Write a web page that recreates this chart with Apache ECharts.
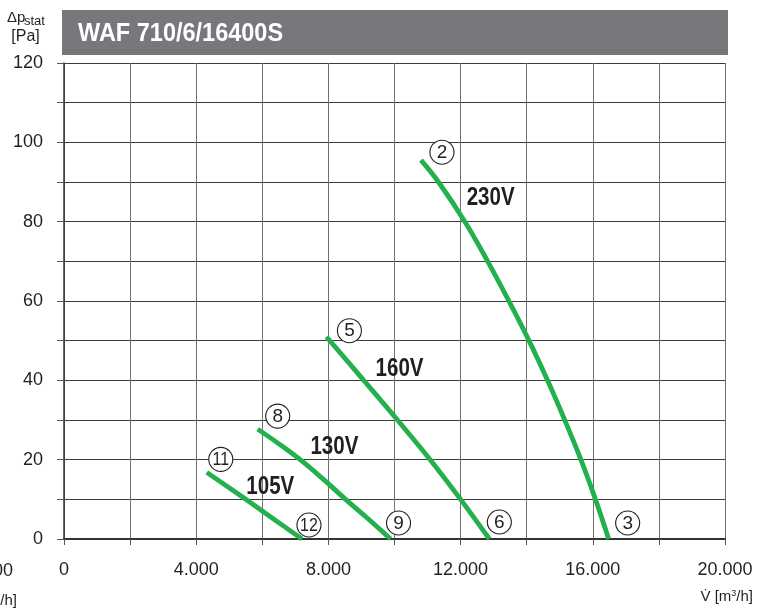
<!DOCTYPE html>
<html><head><meta charset="utf-8">
<script src="https://cdn.jsdelivr.net/npm/echarts@6.0.0/dist/echarts.min.js"></script>
<style>html,body{margin:0;padding:0;background:#fff}#c{width:772px;height:610px}</style>
</head><body><div id="c"></div>
<script>
// ---- data ----
const chartTitle = 'WAF 710/6/16400S';
const xTickLabels = ['0','4.000','8.000','12.000','16.000','20.000'];
const yTickLabels = ['0','20','40','60','80','100','120'];

const curve230x = [10800, 11330, 12130, 12820, 13460, 14070, 14630, 15150, 15640, 16080, 16480];
const curve230y = [95.5, 90, 80, 70, 60, 50, 40, 30, 20, 10, 0];
const curve160x = [7940, 9070, 10090, 11080, 12000, 12870];
const curve160y = [51, 40, 30, 20, 10, 0];
const curve130x = [5860, 6450, 7100, 7800, 8520, 9200, 9880];
const curve130y = [27.7, 24.3, 20.3, 15.4, 10, 5.1, 0];
const curve105x = [4320, 5500, 6350, 7200];
const curve105y = [16.8, 10, 5, 0];

const voltNames = ['230V', '160V', '130V', '105V'];
const startMarks = ['2', '5', '8', '11'];
const endMarks = ['3', '6', '9', '12'];

// annotation anchors (data coords) for the voltage texts
const voltAnchorX = [12909, 10152, 8182, 6242];
const voltAnchorY = [86, 42.9, 23.2, 13.1];

// ---- build ----
const curvesX = [curve230x, curve160x, curve130x, curve105x];
const curvesY = [curve230y, curve160y, curve130y, curve105y];
const zip = (a, b) => a.map((v, i) => [v, b[i]]);

const startOffsets = [[21, -8], [23, -6], [20, -13], [14, -13]];
const endOffsets = [[19, -16], [10, -17], [8, -16], [7, -14]];

const SANS = '"Liberation Sans", Arial, sans-serif';
const INK = '#231f20';
const GREEN = '#22b14c';

const lineSeries = curvesX.map((xs, i) => ({
  type: 'line',
  name: voltNames[i],
  data: zip(xs, curvesY[i]),
  showSymbol: false,
  smooth: 0.4,
  lineStyle: { color: GREEN, width: 4.8, cap: 'butt' },
  z: 3,
  silent: true
}));

const fmtX = v => (v % 4000 === 0 ? xTickLabels[v / 4000] : '');
const fmtY = v => (v % 20 === 0 ? yTickLabels[v / 20] : '');

const option = {
  animation: false,
  backgroundColor: '#fff',
  grid: { left: 64, right: 47, top: 63, bottom: 71, containLabel: false },
  xAxis: {
    type: 'value', min: 0, max: 20000, interval: 2000,
    axisLine: { show: true, lineStyle: { color: '#333', width: 2 } },
    axisTick: { show: true, length: 6, lineStyle: { color: '#555', width: 1 } },
    splitLine: { show: true, lineStyle: { color: '#707070', width: 1 } },
    axisLabel: { formatter: fmtX, margin: 22, color: INK, fontSize: 18, fontFamily: SANS, showMaxLabel: true, showMinLabel: true }
  },
  yAxis: {
    type: 'value', min: 0, max: 120, interval: 10,
    axisLine: { show: true, lineStyle: { color: '#333', width: 1.5 } },
    axisTick: { show: true, length: 7, lineStyle: { color: '#555', width: 1 } },
    splitLine: { show: true, lineStyle: { color: '#3c3c3c', width: 1 } },
    axisLabel: { formatter: fmtY, margin: 21, color: INK, fontSize: 18, fontFamily: SANS }
  },
  series: lineSeries
};

const chart = echarts.init(document.getElementById('c'), null, { renderer: 'canvas' });
chart.setOption(option);

const toPx = p => chart.convertToPixel({ gridIndex: 0 }, p);

function axisName(xRight, yMid) {
  return {
    type: 'text', x: xRight, y: yMid, z: 11,
    style: {
      text: '{n|V\u0307 [m}{s|3}{n|/h]}',
      align: 'right', verticalAlign: 'middle',
      rich: {
        n: { fontSize: 15, fontFamily: SANS, fill: INK },
        s: { fontSize: 9, fontFamily: SANS, fill: INK, padding: [0, 0, 7, 0] }
      }
    }
  };
}

function circleMark(pt, off, txt) {
  const p = toPx(pt);
  const cx = p[0] + off[0], cy = p[1] + off[1];
  return [
    { type: 'circle', shape: { cx: cx, cy: cy, r: 12 }, style: { fill: '#fff', stroke: INK, lineWidth: 1.1 }, z: 20 },
    { type: 'text', x: cx, y: cy + 0.5, scaleX: txt.length > 1 ? 0.84 : 1, z: 21,
      style: { text: txt, fill: INK, font: '19px ' + SANS, align: 'center', verticalAlign: 'middle' } }
  ];
}

const els = [
  { type: 'rect', shape: { x: 62, y: 10, width: 666, height: 45 }, style: { fill: '#77787c' }, z: 10 },
  { type: 'text', x: 78, y: 34, scaleX: 0.94, z: 11,
    style: { text: chartTitle, fill: '#fff', font: 'bold 25px ' + SANS, verticalAlign: 'middle' } },
  { type: 'text', x: 7, y: 25, z: 11, style: { text: 'Δp', fill: INK, font: '15px ' + SANS, verticalAlign: 'bottom' } },
  { type: 'text', x: 24, y: 28, z: 11, style: { text: 'stat', fill: INK, font: '13px ' + SANS, verticalAlign: 'bottom' } },
  { type: 'text', x: 25.5, y: 37, z: 11, style: { text: '[Pa]', fill: INK, font: '16px ' + SANS, align: 'center', verticalAlign: 'middle' } },
  axisName(753, 597),
  axisName(17, 601),
  { type: 'text', x: 13, y: 571, z: 11, style: { text: xTickLabels[5], fill: INK, font: '18px ' + SANS, align: 'right', verticalAlign: 'middle' } }
];

voltNames.forEach((n, i) => {
  const p = toPx([voltAnchorX[i], voltAnchorY[i]]);
  els.push({ type: 'text', x: p[0], y: p[1], scaleX: 0.79, z: 22,
    style: { text: n, fill: INK, font: 'bold 26px ' + SANS, align: 'center', verticalAlign: 'middle' } });
});

curvesX.forEach((xs, i) => {
  const ys = curvesY[i];
  circleMark([xs[0], ys[0]], startOffsets[i], startMarks[i]).forEach(e => els.push(e));
  circleMark([xs[xs.length - 1], ys[ys.length - 1]], endOffsets[i], endMarks[i]).forEach(e => els.push(e));
});

chart.setOption({ graphic: { elements: els } });
</script>
</body></html>
